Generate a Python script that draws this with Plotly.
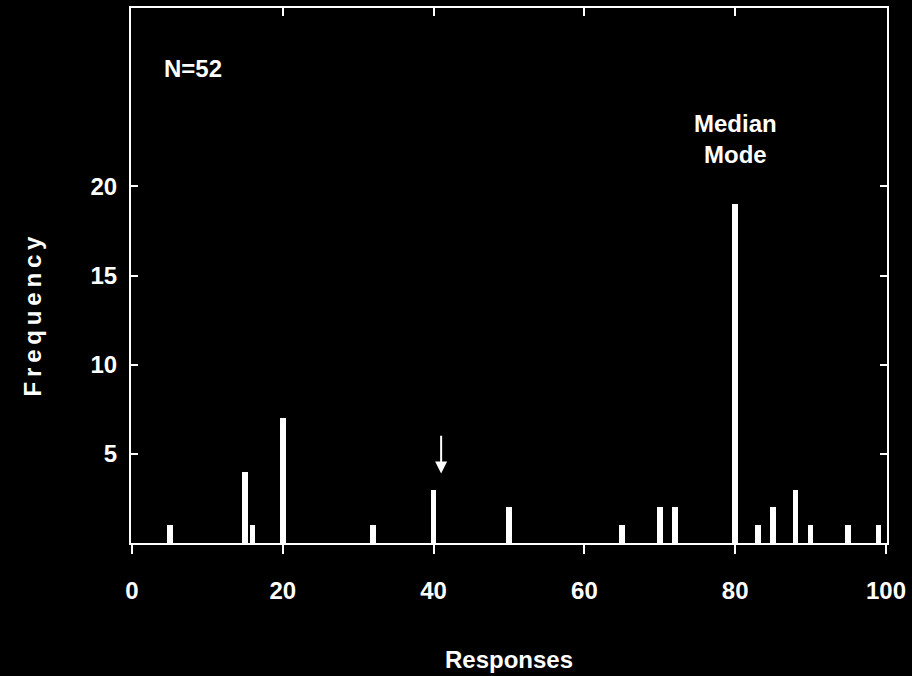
import plotly.graph_objects as go

responses = [5, 15, 16, 20, 32, 40, 50, 65, 70, 72, 80, 83, 85, 88, 90, 95, 99]
frequency = [1, 4, 1, 7, 1, 3, 2, 1, 2, 2, 19, 1, 2, 3, 1, 1, 1]
x_ticks = [0, 20, 40, 60, 80, 100]
y_ticks = [5, 10, 15, 20]

FONT = "Liberation Sans, Arial, sans-serif"

fig = go.Figure()
fig.add_trace(go.Bar(x=responses, y=frequency, width=0.75,
                     marker=dict(color="white", line=dict(width=0)),
                     showlegend=False, hoverinfo="skip"))
# invisible trace for top tick axis
fig.add_trace(go.Scatter(x=[50], y=[0], xaxis="x2", mode="markers",
                         marker=dict(opacity=0), showlegend=False, hoverinfo="skip"))

fig.update_layout(
    width=912, height=676,
    margin=dict(l=131, r=25, t=6, b=133),
    paper_bgcolor="black", plot_bgcolor="black",
    font=dict(family=FONT, color="white", size=24, weight="bold"),
    bargap=0,
    xaxis=dict(range=[-0.13, 100.13], tickvals=x_ticks, ticks="outside", ticklen=9,
               tickwidth=2, tickcolor="white", showline=True, linecolor="white",
               linewidth=2, mirror=True, showgrid=False, zeroline=False,
               ticklabelstandoff=16,
               tickfont=dict(family=FONT, size=24, color="white", weight="bold")),
    xaxis2=dict(range=[-0.13, 100.13], overlaying="x", side="top", tickvals=x_ticks[1:5],
                ticks="inside", ticklen=8, tickwidth=2, tickcolor="white",
                showticklabels=False, showline=False, showgrid=False, zeroline=False),
    yaxis=dict(range=[0, 30], tickvals=y_ticks, ticks="inside", ticklen=7, tickwidth=2,
               tickcolor="white", showline=True, linecolor="white", linewidth=2,
               mirror="ticks", showgrid=False, zeroline=False,
               ticklabelstandoff=7,
               tickfont=dict(family=FONT, size=24, color="white", weight="bold")),
)

fig.add_annotation(x=8.1, y=26.6, xref="x", yref="y", text="N=52", showarrow=False,
                   font=dict(family=FONT, size=24, color="white", weight="bold"))
fig.add_annotation(x=80, y=22.65, xref="x", yref="y", text="Median<br>Mode", showarrow=False,
                   font=dict(family=FONT, size=24, color="white", weight="bold"))
fig.add_annotation(x=41, y=3.9, xref="x", yref="y", ax=41, ay=6.1, axref="x", ayref="y",
                   text="", showarrow=True, arrowhead=2, arrowsize=1.2, arrowwidth=2,
                   arrowcolor="white")
fig.add_annotation(x=0.5, y=-0.218, xref="paper", yref="paper", text="Responses",
                   showarrow=False, yanchor="middle",
                   font=dict(family=FONT, size=24, color="white", weight="bold"))
fig.add_annotation(x=-0.13, y=0.423, xref="paper", yref="paper",
                   text="F\u2009r\u2009e\u2009q\u2009u\u2009e\u2009n\u2009c\u2009y",
                   showarrow=False, textangle=-90, xanchor="center", yanchor="middle",
                   font=dict(family=FONT, size=24, color="white", weight="bold"))

fig.write_html("out.html", config={"displayModeBar": False},
               post_script="document.body.style.margin='0';document.body.style.background='black';")
